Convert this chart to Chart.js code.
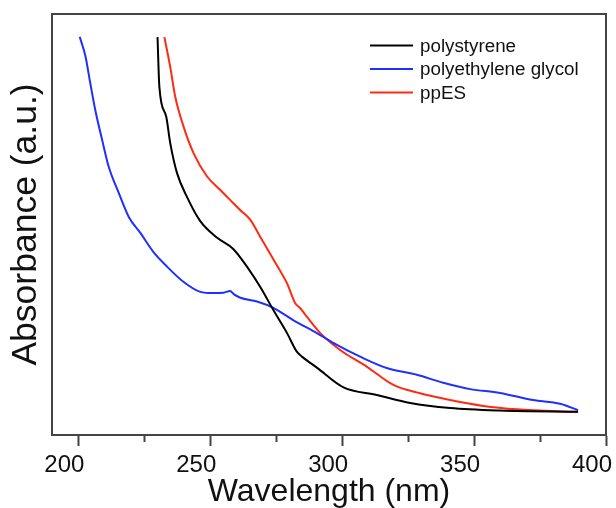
<!DOCTYPE html>
<html>
<head>
<meta charset="utf-8">
<script src="https://cdn.jsdelivr.net/npm/chart.js@4.4.0/dist/chart.umd.min.js"></script>
<style>
  html, body { margin: 0; padding: 0; background: #fff; }
  #wrap { width: 616px; height: 508px; }
</style>
</head>
<body>
<div id="wrap"><canvas id="uv_chart"></canvas></div>
<script>
const seriesNames = ['polystyrene', 'polyethylene glycol', 'ppES'];
const seriesColors = ['#000000', '#1f2fff', '#ff2a12'];

// polystyrene
const psWavelength = [230.0, 230.7, 233.3, 234.8, 237.4, 241.2, 246.2, 252.5, 258.7, 263.9, 268.9, 273.9, 279.1, 282.8, 285.0, 290.4, 300.5, 313.1, 325.8, 340.9, 359.8, 389.4];
const psAbsorbance = [94.5, 82.7, 75.6, 69.4, 62.2, 56.5, 50.8, 46.9, 44.2, 40.0, 35.2, 29.7, 24.2, 19.8, 18.5, 16.0, 11.3, 9.5, 7.6, 6.4, 5.8, 5.5];

// polyethylene glycol
const pegWavelength = [200.5, 202.7, 204.5, 206.4, 209.0, 211.5, 215.3, 219.1, 223.5, 228.4, 233.6, 239.8, 246.2, 251.1, 255.0, 257.5, 259.0, 261.4, 267.7, 273.9, 281.4, 290.4, 298.0, 306.8, 316.9, 328.3, 338.3, 348.5, 359.8, 372.3, 382.6, 389.4];
const pegAbsorbance = [94.6, 89.9, 83.6, 77.2, 70.1, 63.7, 57.5, 51.8, 48.0, 43.5, 40.0, 36.4, 34.0, 33.7, 33.8, 34.2, 33.4, 32.6, 31.7, 30.2, 27.3, 24.2, 21.4, 18.6, 15.9, 14.3, 12.4, 10.9, 10.0, 8.3, 7.4, 5.9];

// ppES
const ppesWavelength = [232.6, 234.8, 236.7, 239.9, 243.7, 248.8, 253.8, 257.6, 261.4, 265.2, 268.9, 274.0, 279.1, 282.2, 284.1, 286.6, 291.7, 299.2, 309.4, 319.4, 329.5, 340.9, 353.5, 366.2, 389.4];
const ppesAbsorbance = [94.5, 87.5, 80.4, 73.2, 66.9, 61.4, 58.2, 55.8, 53.4, 51.1, 47.1, 41.6, 36.0, 31.3, 30.1, 28.1, 24.2, 20.2, 16.2, 11.9, 9.9, 8.3, 6.9, 6.1, 5.5];

const xTickLabels = ['200', '250', '300', '350', '400'];

function toPoints(xs, ys) {
    return xs.map((x, i) => ({ x: x, y: ys[i] }));
}

const seriesData = [
    toPoints(psWavelength, psAbsorbance),
    toPoints(pegWavelength, pegAbsorbance),
    toPoints(ppesWavelength, ppesAbsorbance)
];

// box around the plot
const framePlugin = {
    id: 'frame',
    afterDraw(chart) {
        const { ctx, chartArea: a } = chart;
        ctx.save();
        ctx.strokeStyle = '#444';
        ctx.lineWidth = 2;
        ctx.strokeRect(a.left, a.top, a.right - a.left, a.bottom - a.top);
        ctx.restore();
    }
};

// legend inside the top right corner
const innerLegend = {
    id: 'innerLegend',
    afterDraw(chart) {
        const { ctx, chartArea: a } = chart;
        ctx.save();
        ctx.font = '18.8px "Liberation Sans", Arial, sans-serif';
        ctx.textBaseline = 'middle';
        ctx.textAlign = 'left';
        chart.data.datasets.forEach((ds, i) => {
            const y = a.top + 31.5 + i * 23.5;
            const x = a.right - 236;
            ctx.strokeStyle = ds.borderColor;
            ctx.lineWidth = 2;
            ctx.beginPath();
            ctx.moveTo(x, y);
            ctx.lineTo(x + 43, y);
            ctx.stroke();
            ctx.fillStyle = '#111';
            ctx.fillText(ds.label, x + 50, y + 1);
        });
        ctx.restore();
    }
};

new Chart(document.getElementById('uv_chart'), {
    type: 'line',
    data: {
        datasets: seriesNames.map((name, i) => ({
            label: name,
            data: seriesData[i],
            borderColor: seriesColors[i],
            borderWidth: 2,
            pointRadius: 0,
            fill: false,
            cubicInterpolationMode: 'monotone'
        }))
    },
    options: {
        responsive: true,
        maintainAspectRatio: false,
        animation: false,
        layout: { padding: { top: 14, right: 10, left: 0, bottom: 0 } },
        plugins: { legend: { display: false }, tooltip: { enabled: false } },
        scales: {
            x: {
                type: 'linear',
                min: 190,
                max: 400,
                border: { color: '#444', width: 2 },
                grid: {
                    display: true,
                    drawOnChartArea: false,
                    drawTicks: true,
                    tickLength: 11,
                    tickColor: '#444',
                    tickWidth: 2,
                    tickBorderDash: ctx => (ctx.tick && ctx.tick.value % 50 !== 0) ? [6, 100] : []
                },
                ticks: {
                    stepSize: 25,
                    includeBounds: false,
                    autoSkip: false,
                    maxRotation: 0,
                    labelOffset: -14,
                    padding: 5,
                    color: '#111',
                    font: { family: '"Liberation Sans", Arial, sans-serif', size: 24 },
                    callback: v => {
                        const idx = (v - 200) / 50;
                        return Number.isInteger(idx) ? xTickLabels[idx] : '';
                    }
                },
                title: {
                    display: true,
                    text: 'Wavelength (nm)',
                    color: '#111',
                    font: { family: '"Liberation Sans", Arial, sans-serif', size: 32, lineHeight: 1 },
                    padding: { top: 0, bottom: 0 }
                },
                afterFit: scale => {
                    scale.height = 73;
                    scale.paddingLeft = 0;
                    scale.paddingRight = 0;
                }
            },
            y: {
                type: 'linear',
                min: 0,
                max: 100,
                border: { color: '#444', width: 2 },
                grid: { display: false },
                ticks: { display: false },
                title: {
                    display: true,
                    text: 'Absorbance (a.u.)',
                    color: '#111',
                    font: { family: '"Liberation Sans", Arial, sans-serif', size: 35.5, lineHeight: 1 },
                    padding: { top: 8, bottom: 0 }
                },
                afterFit: scale => {
                    scale.width = 52;
                }
            }
        }
    },
    plugins: [framePlugin, innerLegend]
});
</script>
</body>
</html>
